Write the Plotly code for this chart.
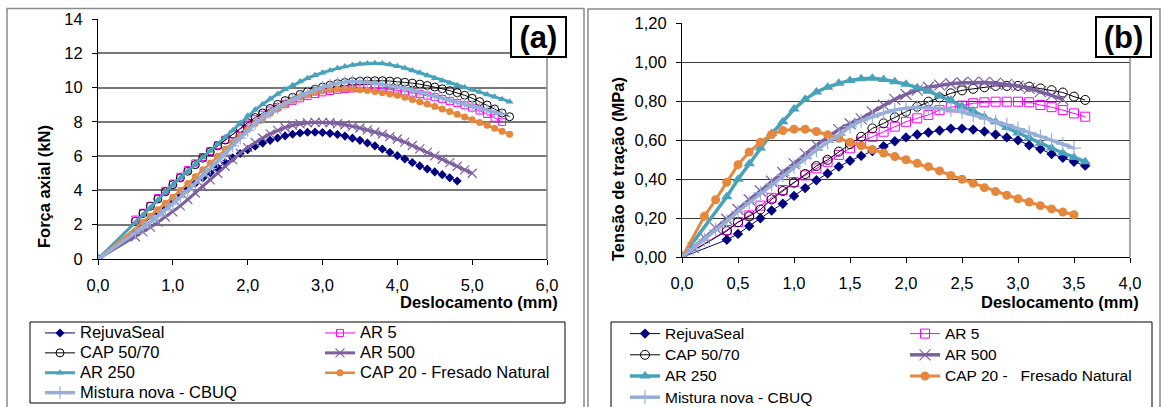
import plotly.graph_objects as go

W, H = 1161, 407

# ---------------- data ----------------
SERIES = ["RejuvaSeal", "AR 5", "CAP 50/70", "AR 500", "AR 250",
          "CAP 20 - Fresado Natural", "Mistura nova - CBUQ"]
SERIES_B = ["RejuvaSeal", "AR 5", "CAP 50/70", "AR 500", "AR 250",
            "CAP 20 -\u00a0\u00a0 Fresado Natural", "Mistura nova - CBUQ"]

# chart (a): displacement (mm) sample positions
XA = [0.5, 0.6, 0.7, 0.8, 0.9, 1.0, 1.1, 1.2, 1.3, 1.4, 1.5, 1.6, 1.7, 1.8, 1.9,
      2.0, 2.1, 2.2, 2.3, 2.4, 2.5, 2.6, 2.7, 2.8, 2.9, 3.0, 3.1, 3.2, 3.3, 3.4,
      3.5, 3.6, 3.7, 3.8, 3.9, 4.0, 4.1, 4.2, 4.3, 4.4, 4.5, 4.6, 4.7, 4.8, 4.9,
      5.0, 5.1, 5.2, 5.3, 5.4, 5.5]

# chart (a): axial force (kN)
A_REJUVASEAL = [2.75, 3.1, 3.45, 3.78, 4.1, 4.42, 4.73, 5.03, 5.33, 5.62, 5.9, 6.15, 6.38,
                6.58, 6.76, 6.92, 7.06, 7.18, 7.28, 7.35, 7.39, 7.4, 7.38, 7.33, 7.26, 7.17,
                7.05, 6.92, 6.77, 6.6, 6.42, 6.23, 6.03, 5.83, 5.63, 5.43, 5.25, 5.08, 4.92,
                4.74, 4.55]                       # x 0.8 .. 4.8
A_AR5 = [2.3, 2.7, 3.1, 3.55, 3.98, 4.4, 4.8, 5.2, 5.58, 5.95,
         6.3, 6.64, 6.96, 7.27, 7.57, 7.85, 8.15, 8.42, 8.66, 8.87,
         9.05, 9.22, 9.37, 9.5, 9.62, 9.72, 9.8, 9.87, 9.92, 9.95,
         9.97, 9.98, 9.97, 9.94, 9.9, 9.85, 9.78, 9.7, 9.62, 9.53,
         9.44, 9.33, 9.22, 9.1, 8.97, 8.83, 8.66, 8.46, 8.24, 8.0]      # x 0.5 .. 5.4
A_CAP5070 = [2.2, 2.65, 3.08, 3.5, 3.92, 4.33, 4.73, 5.12, 5.5, 5.88,
             6.25, 6.6, 6.94, 7.28, 7.62, 7.95, 8.25, 8.52, 8.78, 9.02,
             9.24, 9.43, 9.6, 9.76, 9.9, 10.03, 10.14, 10.23, 10.3, 10.35,
             10.37, 10.39, 10.4, 10.4, 10.38, 10.35, 10.31, 10.26, 10.2, 10.12,
             10.03, 9.93, 9.82, 9.7, 9.55, 9.38, 9.18, 8.98, 8.75, 8.52, 8.3]  # x 0.5 .. 5.5
A_AR500 = [1.3, 1.58, 1.86, 2.15, 2.45, 2.75, 3.1, 3.47, 3.85, 4.23,
           4.62, 5.0, 5.4, 5.8, 6.18, 6.5, 6.8, 7.06, 7.3, 7.5,
           7.67, 7.8, 7.88, 7.94, 7.97, 7.97, 7.95, 7.9, 7.83, 7.74,
           7.64, 7.53, 7.41, 7.28, 7.14, 7.0, 6.82, 6.62, 6.42, 6.22,
           6.02, 5.82, 5.62, 5.41, 5.2, 5.0]                             # x 0.5 .. 5.0
A_AR250 = [2.1, 2.55, 3.0, 3.45, 3.9, 4.33, 4.73, 5.13, 5.53, 5.92,
           6.3, 6.7, 7.1, 7.5, 7.93, 8.35, 8.7, 9.03, 9.35, 9.63,
           9.9, 10.13, 10.35, 10.55, 10.72, 10.87, 11.0, 11.12, 11.23, 11.31,
           11.37, 11.41, 11.42, 11.4, 11.34, 11.25, 11.14, 11.0, 10.86, 10.7,
           10.55, 10.4, 10.26, 10.13, 10.0, 9.87, 9.74, 9.6, 9.46, 9.32, 9.18]  # x 0.5 .. 5.5
A_CAP20 = [2.15, 2.5, 2.88, 3.25, 3.6, 4.0, 4.4, 4.8, 5.2, 5.6,
           6.0, 6.4, 6.8, 7.18, 7.55, 7.9, 8.2, 8.5, 8.77, 9.02,
           9.25, 9.43, 9.58, 9.7, 9.8, 9.87, 9.91, 9.93, 9.92, 9.88,
           9.83, 9.77, 9.7, 9.63, 9.55, 9.43, 9.3, 9.17, 9.04, 8.9,
           8.75, 8.6, 8.45, 8.29, 8.13, 7.96, 7.8, 7.63, 7.45, 7.28]      # x 0.6 .. 5.5
A_MISTURA = [1.5, 1.82, 2.15, 2.5, 2.85, 3.2, 3.6, 4.0, 4.42, 4.85,
             5.28, 5.7, 6.12, 6.6, 7.05, 7.5, 7.9, 8.25, 8.55, 8.82,
             9.07, 9.3, 9.5, 9.7, 9.87, 10.02, 10.15, 10.25, 10.32, 10.35,
             10.34, 10.3, 10.25, 10.18, 10.12, 10.05, 9.95, 9.85, 9.73, 9.6,
             9.48, 9.37, 9.25, 9.13, 9.02, 8.9, 8.78, 8.66, 8.55, 8.45]   # x 0.5 .. 5.4

# chart (b): displacement (mm) sample positions
XB = [0.1, 0.2, 0.3, 0.4, 0.5, 0.6, 0.7, 0.8, 0.9, 1.0, 1.1, 1.2, 1.3, 1.4, 1.5,
      1.6, 1.7, 1.8, 1.9, 2.0, 2.1, 2.2, 2.3, 2.4, 2.5, 2.6, 2.7, 2.8, 2.9, 3.0,
      3.1, 3.2, 3.3, 3.4, 3.5, 3.6]

# chart (b): tensile stress (MPa)
B_REJUVASEAL = [0.09, 0.12, 0.16, 0.20, 0.24, 0.275, 0.315, 0.355, 0.395, 0.43,
                0.465, 0.495, 0.52, 0.545, 0.57, 0.595, 0.615, 0.63, 0.64, 0.65,
                0.66, 0.66, 0.655, 0.645, 0.63, 0.615, 0.60, 0.575, 0.555, 0.53,
                0.51, 0.49, 0.47]                                         # x 0.4 .. 3.6
B_AR5 = [0.14, 0.18, 0.215, 0.265, 0.305, 0.345, 0.385, 0.42, 0.456, 0.49,
         0.525, 0.559, 0.593, 0.618, 0.644, 0.67, 0.695, 0.713, 0.73, 0.755,
         0.769, 0.778, 0.79, 0.795, 0.798, 0.798, 0.798, 0.795, 0.781, 0.77,
         0.755, 0.738, 0.721]                                             # x 0.4 .. 3.6
B_CAP5070 = [0.135, 0.18, 0.21, 0.245, 0.297, 0.34, 0.383, 0.427, 0.468, 0.5,
             0.542, 0.58, 0.618, 0.661, 0.687, 0.718, 0.747, 0.772, 0.798, 0.82,
             0.841, 0.856, 0.864, 0.872, 0.879, 0.879, 0.879, 0.875, 0.866, 0.857,
             0.845, 0.824, 0.807]                                         # x 0.4 .. 3.6
B_AR500 = [0.05, 0.10, 0.15, 0.195, 0.245, 0.295, 0.34, 0.39, 0.435, 0.48,
           0.53, 0.575, 0.615, 0.655, 0.685, 0.71, 0.745, 0.78, 0.81, 0.835,
           0.857, 0.872, 0.883, 0.89, 0.895, 0.897, 0.897, 0.893, 0.887, 0.878,
           0.866, 0.85, 0.83, 0.81]                                       # x 0.1 .. 3.4
B_AR250 = [0.31, 0.40, 0.48, 0.56, 0.635, 0.695, 0.76, 0.81, 0.848, 0.872,
           0.892, 0.907, 0.916, 0.918, 0.912, 0.90, 0.888, 0.87, 0.852, 0.827,
           0.805, 0.775, 0.75, 0.72, 0.695, 0.665, 0.638, 0.612, 0.585, 0.56,
           0.535, 0.512, 0.49]                                            # x 0.4 .. 3.6
B_CAP20 = [0.21, 0.295, 0.385, 0.475, 0.54, 0.59, 0.63, 0.65, 0.657, 0.657,
           0.645, 0.628, 0.61, 0.59, 0.572, 0.553, 0.535, 0.517, 0.5, 0.482,
           0.465, 0.443, 0.42, 0.40, 0.38, 0.357, 0.337, 0.318, 0.30, 0.283,
           0.265, 0.248, 0.232, 0.218]                                    # x 0.2 .. 3.5
B_MISTURA = [0.045, 0.09, 0.14, 0.185, 0.235, 0.28, 0.33, 0.375, 0.42, 0.465,
             0.51, 0.55, 0.59, 0.625, 0.67, 0.70, 0.72, 0.74, 0.755, 0.765,
             0.77, 0.768, 0.763, 0.755, 0.745, 0.73, 0.715, 0.695, 0.68, 0.66,
             0.64, 0.62, 0.60, 0.58, 0.56]                                # x 0.1 .. 3.5

A_X = [[0] + XA[3:44], [0] + XA[0:50], [0] + XA[0:51], [0] + XA[0:46],
       [0] + XA[0:51], [0] + XA[1:51], [0] + XA[0:50]]
A_Y = [[0] + A_REJUVASEAL, [0] + A_AR5, [0] + A_CAP5070, [0] + A_AR500,
       [0] + A_AR250, [0] + A_CAP20, [0] + A_MISTURA]
B_X = [[0] + XB[3:36], [0] + XB[3:36], [0] + XB[3:36], [0] + XB[0:34],
       [0] + XB[3:36], [0] + XB[1:35], [0] + XB[0:35]]
B_Y = [[0] + B_REJUVASEAL, [0] + B_AR5, [0] + B_CAP5070, [0] + B_AR500,
       [0] + B_AR250, [0] + B_CAP20, [0] + B_MISTURA]

A_XTICKS = [0, 1, 2, 3, 4, 5, 6]
A_XTEXT = ["0,0", "1,0", "2,0", "3,0", "4,0", "5,0", "6,0"]
A_YTICKS = [0, 2, 4, 6, 8, 10, 12, 14]
B_XTICKS = [0, 0.5, 1, 1.5, 2, 2.5, 3, 3.5, 4]
B_XTEXT = ["0,0", "0,5", "1,0", "1,5", "2,0", "2,5", "3,0", "3,5", "4,0"]
B_YTICKS = [0, 0.2, 0.4, 0.6, 0.8, 1.0, 1.2]
B_YTEXT = ["0,00", "0,20", "0,40", "0,60", "0,80", "1,00", "1,20"]

# ---------------- styles ----------------
NAVY, MAG, BLK = "#000080", "#FF00FF", "#000000"
PURP, TEAL, ORNG, LBLU = "#7D609F", "#48A2BA", "#E5883D", "#97AFD8"
# (color, line width a, line width b, symbol, size a, size b, marker line width)
STY = [
    (NAVY, 1.0, 1.0, "diamond", 7, 8, 0),
    (MAG, 1.0, 1.0, "square-open", 7, 9, 1),
    (BLK, 1.0, 1.0, "circle-open", 8, 9, 1),
    (PURP, 3.0, 3.5, "x-thin", 9, 11, 1.2),
    (TEAL, 3.0, 3.5, "triangle-up", 7, 10, 0),
    (ORNG, 2.5, 3.0, "circle", 7, 9, 0),
    (LBLU, 3.5, 3.5, "cross-thin", 9, 10, 1.2),
]
COL1 = {0, 2, 4, 6}
FONT = "Arial, Liberation Sans, sans-serif"


def px(v):
    return v / W


def py(v):
    return 1 - v / H


fig = go.Figure()
for chart, (xs, ys, names, xa, ya, lg1, lg2, lsize) in enumerate([
        (A_X, A_Y, SERIES, "x", "y", "legend", "legend2", 16.5),
        (B_X, B_Y, SERIES_B, "x2", "y2", "legend3", "legend4", 15.5)]):
    for i in range(7):
        col, lwa, lwb, sym, sa, sb, mlw = STY[i]
        lw = lwa if chart == 0 else lwb
        ms = sa if chart == 0 else sb
        fig.add_trace(go.Scatter(
            x=xs[i], y=ys[i], xaxis=xa, yaxis=ya, mode="lines+markers",
            name=f"<span style='font-size:{lsize}px'>{names[i]}</span>",
            line=dict(color=col, width=lw),
            marker=dict(symbol=sym, size=ms, color=col,
                        line=dict(color=col, width=mlw)),
            legend=lg1 if i in COL1 else lg2, showlegend=True,
            hoverinfo="skip"))

axis_common = dict(showline=True, linecolor="black", linewidth=1, ticks="outside",
                   ticklen=5, tickcolor="black", tickwidth=1, zeroline=False,
                   automargin=False,
                   tickfont=dict(family=FONT, size=16.5, color="black"))

fig.update_layout(
    width=W, height=H, margin=dict(l=0, r=0, t=0, b=0, pad=0, autoexpand=False),
    paper_bgcolor="white", plot_bgcolor="white",
    font=dict(family=FONT, color="black"),
    xaxis=dict(domain=[px(98), px(547)], range=[0, 6], anchor="y",
               tickvals=A_XTICKS, ticktext=A_XTEXT, showgrid=False,
               ticklabelstandoff=6, **axis_common),
    yaxis=dict(domain=[py(259), py(19)], range=[0, 14], anchor="x",
               tickvals=A_YTICKS, showgrid=True, gridcolor="#787878", gridwidth=1.5,
               ticklabelstandoff=6, **axis_common),
    xaxis2=dict(domain=[px(682), px(1130)], range=[0, 4], anchor="y2",
                tickvals=B_XTICKS, ticktext=B_XTEXT, showgrid=False,
                ticklabelstandoff=6, **axis_common),
    yaxis2=dict(domain=[py(257.3), py(23.3)], range=[0, 1.2], anchor="x2",
                tickvals=B_YTICKS, ticktext=B_YTEXT, showgrid=True,
                gridcolor="#3a3a3a", gridwidth=1, ticklabelstandoff=6, **axis_common),
    showlegend=True,
)

leg_common = dict(bgcolor="rgba(0,0,0,0)", borderwidth=0, xanchor="left",
                  yanchor="top", xref="paper", yref="paper", orientation="v",
                  itemclick=False, itemdoubleclick=False)
fig.update_layout(
    legend=dict(x=px(40), y=py(318), font=dict(family=FONT, size=13, color="black"), **leg_common),
    legend2=dict(x=px(320), y=py(318), font=dict(family=FONT, size=13, color="black"), **leg_common),
    legend3=dict(x=px(625), y=py(318), font=dict(family=FONT, size=14, color="black"), **leg_common),
    legend4=dict(x=px(905), y=py(318), font=dict(family=FONT, size=14, color="black"), **leg_common),
)

shapes = []
# outer chart frames
shapes.append(dict(type="rect", xref="paper", yref="paper", x0=px(7), x1=px(584),
                   y0=py(420), y1=py(8.5), line=dict(color="#8a8a8a", width=1.5),
                   layer="below"))
shapes.append(dict(type="rect", xref="paper", yref="paper", x0=px(588), x1=px(1160),
                   y0=py(420), y1=py(9), line=dict(color="#8a8a8a", width=1.5),
                   layer="below"))
# plot-area right borders
shapes.append(dict(type="line", xref="x domain", yref="y domain", x0=1, x1=1, y0=0, y1=1,
                   line=dict(color="#8a8a8a", width=1.5)))
shapes.append(dict(type="line", xref="x2 domain", yref="y2 domain", x0=1, x1=1, y0=0, y1=1,
                   line=dict(color="#8a8a8a", width=1.5)))
# legend boxes
shapes.append(dict(type="rect", xref="paper", yref="paper", x0=px(30), x1=px(565),
                   y0=py(403), y1=py(322), line=dict(color="black", width=1)))
shapes.append(dict(type="rect", xref="paper", yref="paper", x0=px(611), x1=px(1152),
                   y0=py(420), y1=py(322), line=dict(color="black", width=1)))
fig.update_layout(shapes=shapes)

ann = []
ann.append(dict(text="<b>(a)</b>", x=px(538.3), y=py(37), xref="paper", yref="paper",
                showarrow=False, font=dict(family=FONT, size=31, color="black"),
                bordercolor="black", borderwidth=2, borderpad=0, bgcolor="white",
                width=53, height=38, xanchor="center", yanchor="middle"))
ann.append(dict(text="<b>(b)</b>", x=px(1123.3), y=py(37.5), xref="paper", yref="paper",
                showarrow=False, font=dict(family=FONT, size=31, color="black"),
                bordercolor="black", borderwidth=2, borderpad=0, bgcolor="white",
                width=53, height=38, xanchor="center", yanchor="middle"))
ann.append(dict(text="<b>Força axial (kN)</b>", x=px(33), y=py(187), xref="paper",
                yref="paper", showarrow=False, textangle=-90,
                font=dict(family=FONT, size=16.5, color="black")))
ann.append(dict(text="<b>Tensão de tração (MPa)</b>", x=px(618), y=py(169), xref="paper",
                yref="paper", showarrow=False, textangle=-90,
                font=dict(family=FONT, size=16.5, color="black")))
ann.append(dict(text="<b>Deslocamento (mm)</b>", x=px(560), y=py(301.5), xref="paper",
                yref="paper", showarrow=False, xanchor="right", yanchor="middle",
                font=dict(family=FONT, size=16.5, color="black")))
ann.append(dict(text="<b>Deslocamento (mm)</b>", x=px(1141), y=py(301.5), xref="paper",
                yref="paper", showarrow=False, xanchor="right", yanchor="middle",
                font=dict(family=FONT, size=16.5, color="black")))
fig.update_layout(annotations=ann)

fig.write_html("out.html", config={"displayModeBar": False},
               post_script="document.body.style.margin='0';")
